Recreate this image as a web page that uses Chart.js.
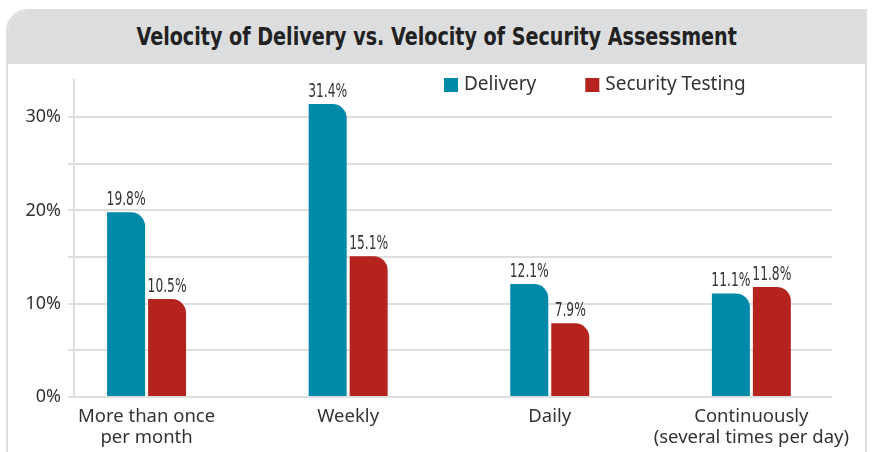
<!DOCTYPE html>
<html>
<head>
<meta charset="utf-8">
<script src="https://cdn.jsdelivr.net/npm/chart.js@4"></script>
<style>
    body { margin: 0; background: #fff; width: 873px; height: 452px; overflow: hidden; position: relative; }
    .frame {
        position: absolute; left: 6px; top: 9px; width: 857px; height: 470px;
        border: 2px solid #dedede; border-top-left-radius: 22px; overflow: hidden;
    }
    .title-band {
        height: 51px; background: #dcdddf; border-bottom: 2px solid #dedede;
        display: flex; align-items: center; justify-content: center;
    }
    .title-band h1 {
        margin: 0; font-family: "DejaVu Sans Condensed", "DejaVu Sans", sans-serif;
        font-weight: bold; font-size: 25px; color: #222; white-space: nowrap;
        transform-origin: center center;
    }
    .chart-box { position: absolute; left: 0; top: 62px; width: 873px; height: 390px; }
</style>
</head>
<body>
<div class="frame">
    <div class="title-band"><h1 id="title">Velocity of Delivery vs. Velocity of Security Assessment</h1></div>
</div>
<div class="chart-box"><canvas id="velocityChart"></canvas></div>
<script>
// Données
const categories = [['More than once', 'per month'], 'Weekly', 'Daily', ['Continuously', '(several times per day)']];
const deliveryValues = [19.8, 31.4, 12.1, 11.1];
const securityValues = [10.5, 15.1, 7.9, 11.8];
const yTicks = [0, 5, 10, 15, 20, 25, 30];

const BLUE = '#0089a9';
const RED = '#b5231f';
const TEXT = '#333';

// Titre condensé (pas de police étroite installée)
const title = document.getElementById('title');
title.style.transform = 'scaleX(' + (600 / title.offsetWidth) + ')';

// Étiquettes de valeur au-dessus des barres
const valueLabels = {
    id: 'valueLabels',
    afterDatasetsDraw(chart) {
        const ctx = chart.ctx;
        ctx.save();
        ctx.font = '19px "DejaVu Sans Condensed", "DejaVu Sans", sans-serif';
        ctx.fillStyle = TEXT;
        ctx.textAlign = 'center';
        ctx.textBaseline = 'alphabetic';
        const squeeze = 39 / ctx.measureText('19.8%').width;
        chart.data.datasets.forEach((ds, i) => {
            chart.getDatasetMeta(i).data.forEach((bar, j) => {
                ctx.save();
                ctx.translate(bar.x, bar.y - 7);
                ctx.scale(squeeze, 1);
                ctx.fillText(ds.data[j].y.toFixed(1) + '%', 0, 0);
                ctx.restore();
            });
        });
        ctx.restore();
    }
};

// Légende dessinée dans la zone du graphique
const plotLegend = {
    id: 'plotLegend',
    afterDraw(chart) {
        const ctx = chart.ctx;
        ctx.save();
        ctx.font = '19px "Noto Sans", sans-serif';
        ctx.textBaseline = 'middle';
        let x = 444;
        const y = 23;
        chart.data.datasets.forEach(ds => {
            ctx.fillStyle = ds.backgroundColor;
            ctx.fillRect(x, y - 7, 14, 14);
            ctx.fillStyle = TEXT;
            ctx.fillText(ds.label, x + 20, y);
            x += 20 + ctx.measureText(ds.label).width + 49;
        });
        ctx.restore();
    }
};

const ctx = document.getElementById('velocityChart').getContext('2d');
new Chart(ctx, {
    type: 'bar',
    data: {
        datasets: [{
            label: 'Delivery',
            data: deliveryValues.map((v, i) => ({ x: i, y: v })),
            backgroundColor: BLUE,
            borderRadius: { topRight: 14 },
            borderSkipped: 'start'
        }, {
            label: 'Security Testing',
            data: securityValues.map((v, i) => ({ x: i, y: v })),
            backgroundColor: RED,
            borderRadius: { topRight: 14 },
            borderSkipped: 'start'
        }]
    },
    options: {
        responsive: true,
        maintainAspectRatio: false,
        animation: false,
        categoryPercentage: 0.4066,
        barPercentage: 0.927,
        layout: { padding: { top: 17, right: 41, left: 0, bottom: 0 } },
        plugins: {
            legend: { display: false },
            tooltip: { enabled: false }
        },
        scales: {
            x: {
                type: 'linear',
                offset: false,
                min: -0.36,
                max: 3.4,
                afterBuildTicks: scale => { scale.ticks = categories.map((c, i) => ({ value: i })); },
                afterFit: scale => { scale.height = 55; },
                grid: { display: false, offset: false },
                border: { display: false },
                ticks: {
                    autoSkip: false,
                    maxRotation: 0,
                    padding: 1,
                    color: TEXT,
                    font: { family: '"Noto Sans", sans-serif', size: 18.5, lineHeight: 1.15 },
                    callback: value => categories[value]
                }
            },
            y: {
                min: 0,
                max: 34,
                afterBuildTicks: scale => { scale.ticks = yTicks.map(v => ({ value: v })); },
                afterFit: scale => { scale.width = 74; },
                grid: { color: '#dedede', lineWidth: 2, tickLength: 6 },
                border: { color: '#dedede', width: 2 },
                ticks: {
                    padding: 7,
                    color: TEXT,
                    font: { family: '"Noto Sans", sans-serif', size: 18 },
                    callback: value => value % 10 === 0 ? value + '%' : ''
                }
            }
        }
    },
    plugins: [valueLabels, plotLegend]
});
</script>
</body>
</html>
